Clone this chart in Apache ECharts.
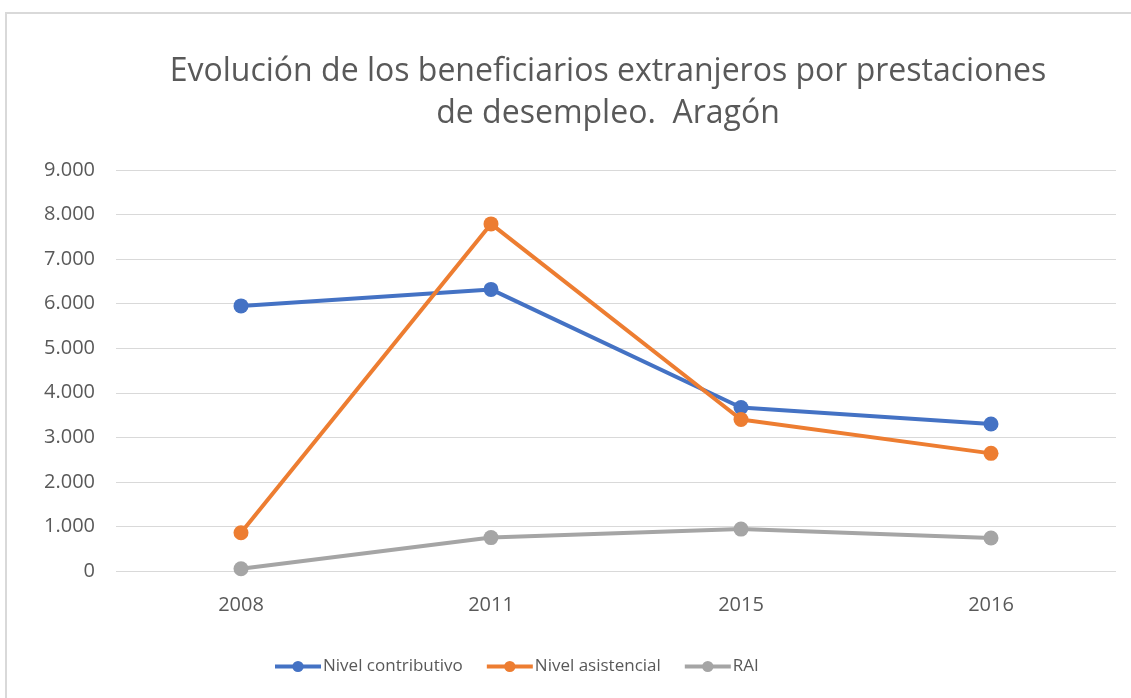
<!DOCTYPE html>
<html lang="es">
<head>
    <meta charset="UTF-8">
    <title>Beneficiarios extranjeros Aragón</title>
    <style>
        html, body { margin: 0; padding: 0; background: #fff; }
    </style>
</head>
<body>
    <div id="chart" style="width:1131px;height:698px"></div>
    <script src="https://cdn.jsdelivr.net/npm/echarts@6/dist/echarts.min.js"></script>
    <script type="text/javascript">
       var years = ['2008', '2011', '2015', '2016'];
       var contributivo = [5950, 6320, 3670, 3300];
       var asistencial = [860, 7790, 3400, 2640];
       var rai = [50, 750, 940, 740];

       var myChart = echarts.init(document.getElementById('chart'));

       // miles con punto, como en el original
       function fmt(v) {
           return String(v).replace(/\B(?=(\d{3})+(?!\d))/g, '.');
       }

       function serie(name, data, color) {
           return {
               name: name,
               type: 'line',
               data: data,
               symbol: 'circle',
               symbolSize: 15,
               lineStyle: { width: 4, color: color },
               itemStyle: { color: color },
               emphasis: { disabled: true }
           };
       }

       var font = "'Open Sans', sans-serif";

       var option = {
           animation: false,
           backgroundColor: '#fff',
           graphic: [{
               type: 'rect',
               shape: { x: 6, y: 13, width: 1140, height: 700 },
               style: { fill: 'none', stroke: '#d9d9d9', lineWidth: 2 },
               silent: true
           }],
           title: {
               text: 'Evolución de los beneficiarios extranjeros por prestaciones\nde desempleo.  Aragón',
               left: 603,
               textAlign: 'center',
               top: 46,
               textStyle: {
                   fontFamily: font,
                   fontWeight: 'normal',
                   fontSize: 32,
                   lineHeight: 42,
                   color: '#595959'
               }
           },
           legend: {
               bottom: 18,
               left: 268,
               itemWidth: 46,
               itemHeight: 14,
               itemGap: 22,
               lineStyle: { width: 4 },
               textStyle: { fontFamily: font, fontSize: 17, color: '#595959', padding: [0, 0, 0, -3] },
               data: ['Nivel contributivo', 'Nivel asistencial', 'RAI']
           },
           grid: { left: 116, right: 15, top: 170, bottom: 127 },
           xAxis: {
               type: 'category',
               data: years,
               boundaryGap: true,
               axisLine: { show: false },
               axisTick: { show: false },
               axisLabel: { margin: 24, fontFamily: font, fontSize: 20, color: '#595959' }
           },
           yAxis: {
               type: 'value',
               min: 0,
               max: 9000,
               interval: 1000,
               axisLine: { show: false },
               axisTick: { show: false },
               splitLine: { lineStyle: { color: '#d9d9d9', width: 1 } },
               axisLabel: {
                   margin: 21,
                   fontFamily: font,
                   fontSize: 20,
                   color: '#595959',
                   formatter: fmt
               }
           },
           series: [
               serie('Nivel contributivo', contributivo, '#4472c4'),
               serie('Nivel asistencial', asistencial, '#ed7d31'),
               serie('RAI', rai, '#a5a5a5')
           ]
       };
       myChart.setOption(option);
    </script>
</body>
</html>
